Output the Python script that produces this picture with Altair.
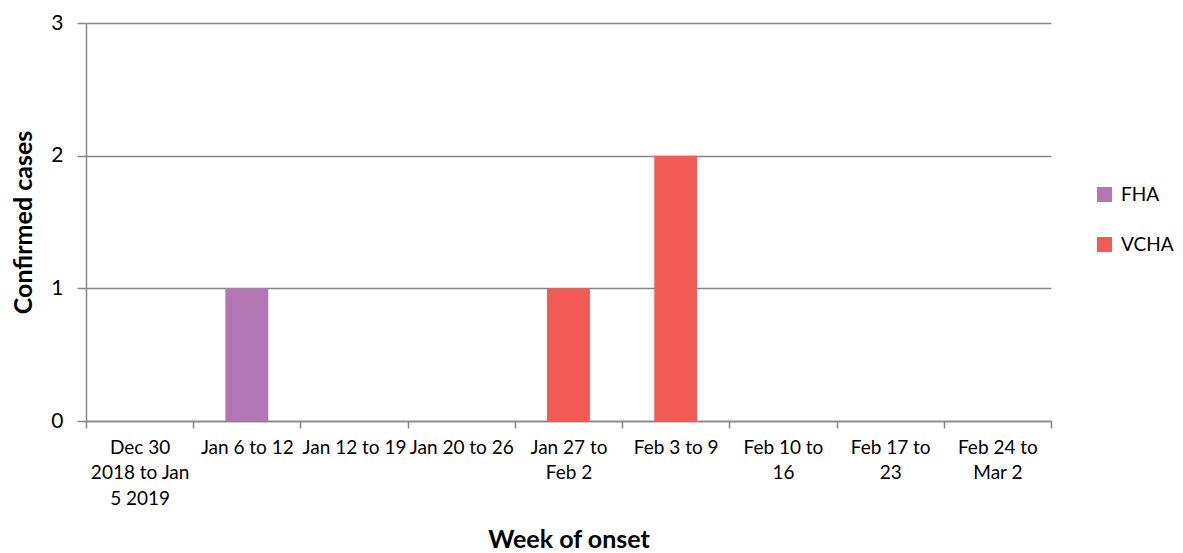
import altair as alt
import pandas as pd

weeks = [
    "Dec 30\n2018 to Jan\n5 2019",
    "Jan 6 to 12",
    "Jan 12 to 19",
    "Jan 20 to 26",
    "Jan 27 to\nFeb 2",
    "Feb 3 to 9",
    "Feb 10 to\n16",
    "Feb 17 to\n23",
    "Feb 24 to\nMar 2",
]
regions = ["FHA", "VCHA"]
fha = [0, 1, 0, 0, 0, 0, 0, 0, 0]
vcha = [0, 0, 0, 0, 1, 2, 0, 0, 0]
colors = ["#B276B2", "#F15A55"]

rows = []
for w, f, v in zip(weeks, fha, vcha):
    rows.append({"week": w, "region": "FHA", "cases": f})
    rows.append({"week": w, "region": "VCHA", "cases": v})
df = pd.DataFrame(rows)

FONT = "Lato"
GRAY = "#868686"

chart = alt.Chart(df).mark_bar(width=alt.RelativeBandSize(0.4)).encode(
    x=alt.X(
        "week:N",
        scale=alt.Scale(domain=weeks, paddingInner=0, paddingOuter=0),
        axis=alt.Axis(
            title="Week of onset",
            labelExpr="split(datum.label, '\\n')",
            labelAngle=0,
            labelFont=FONT,
            labelFontSize=19,
            labelColor="#000000",
            labelLineHeight=25.5,
            labelPadding=10,
            labelLimit=200,
            tickBand="extent",
            tickSize=7,
            tickColor=GRAY,
            tickWidth=1.5,
            domainColor=GRAY,
            domainWidth=1.5,
            titleFont=FONT,
            titleFontSize=25,
            titleFontWeight="bold",
            titleColor="#000000",
            titleX=482.5,
            titleY=118,
            titleBaseline="middle",
        ),
    ),
    y=alt.Y(
        "cases:Q",
        stack="zero",
        scale=alt.Scale(domain=[0, 3], nice=False),
        axis=alt.Axis(
            title="Confirmed cases",
            values=[0, 1, 2, 3],
            format="d",
            labelFont=FONT,
            labelFontSize=21,
            labelColor="#000000",
            labelPadding=14,
            tickSize=9,
            tickColor=GRAY,
            tickWidth=1.5,
            domainColor=GRAY,
            domainWidth=1.5,
            gridColor=GRAY,
            gridWidth=1.5,
            titleFont=FONT,
            titleFontSize=25,
            titleFontWeight="bold",
            titleColor="#000000",
            titleAngle=270,
            titleX=-63,
            titleY=199,
            titleBaseline="middle",
        ),
    ),
    color=alt.Color(
        "region:N",
        scale=alt.Scale(domain=regions, range=colors),
        legend=alt.Legend(
            title=None,
            orient="none",
            legendX=1009,
            legendY=162,
            symbolType="square",
            symbolSize=225,
            symbolStrokeWidth=0,
            symbolOpacity=1,
            labelFont=FONT,
            labelFontSize=19,
            labelColor="#000000",
            labelOffset=7,
            rowPadding=30,
            padding=0,
        ),
    ),
    order=alt.Order("region:N"),
).properties(
    width=965,
    height=398,
    autosize=alt.AutoSizeParams(type="none"),
    padding={"left": 78, "top": 15, "right": 124, "bottom": 131},
).configure_view(stroke=None).configure_axis(domainCap="butt")

chart.save("out.html", embed_options={"renderer": "svg", "actions": False})
